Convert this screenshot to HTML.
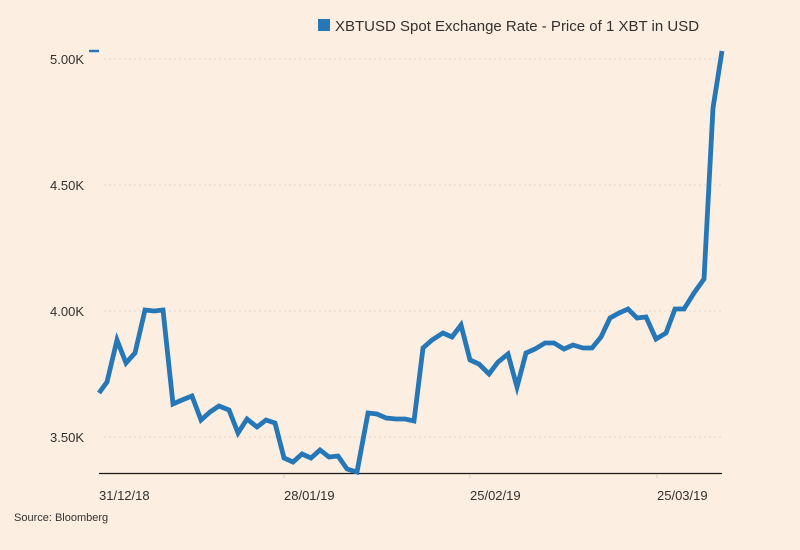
<!DOCTYPE html>
<html><head><meta charset="utf-8"><style>
html,body{margin:0;padding:0;background:#fcefe2;}
svg{display:block;font-family:"Liberation Sans",sans-serif;}
</style></head><body>
<svg width="800" height="550" viewBox="0 0 800 550" xmlns="http://www.w3.org/2000/svg">
<rect width="800" height="550" fill="#fcefe2"/>
<rect x="318" y="19" width="12" height="12" fill="#2677b8"/>
<text x="335" y="31" font-size="15" fill="#33302e">XBTUSD Spot Exchange Rate - Price of 1 XBT in USD</text>
<g stroke="#e2d6cb" stroke-width="1" stroke-dasharray="2,3">
<line x1="104" y1="59" x2="722" y2="59"/>
<line x1="104" y1="185" x2="722" y2="185"/>
<line x1="104" y1="311" x2="722" y2="311"/>
<line x1="104" y1="437" x2="722" y2="437"/>
</g>
<g font-size="13" fill="#33302e" text-anchor="end">
<text x="84" y="64">5.00K</text>
<text x="84" y="190">4.50K</text>
<text x="84" y="316">4.00K</text>
<text x="84" y="442">3.50K</text>
</g>
<line x1="89" y1="51" x2="99" y2="51" stroke="#2677b8" stroke-width="2.5"/>
<line x1="99" y1="473.5" x2="722" y2="473.5" stroke="#1a1817" stroke-width="1.3"/>
<g stroke="#d8ccc0" stroke-width="1">
<line x1="284" y1="474" x2="284" y2="478"/>
<line x1="470" y1="474" x2="470" y2="478"/>
<line x1="657" y1="474" x2="657" y2="478"/>
</g>
<g font-size="13" fill="#33302e">
<text x="99" y="500">31/12/18</text>
<text x="284" y="500">28/01/19</text>
<text x="470" y="500">25/02/19</text>
<text x="657" y="500">25/03/19</text>
</g>
<text x="14" y="521" font-size="11" fill="#33302e">Source: Bloomberg</text>
<polyline fill="none" stroke="#2677b8" stroke-width="4.8" stroke-linejoin="miter" points="99,393 107,382 117,340 126,363 135,353 145,310 154,311 163,310 173,404 182,400 192,396 201,420 210,412 219,406 229,410 238,433 247,419 257,427 266,420 275,423 284,458 293,462 302,454 311,458 320,450 329,457 338,456 347,469 357,472 368,413 377,414 386,418 396,419 405,419 414,421 423,348 432,340 443,333 452,337 461,325 470,360 479,364 489,374 498,362 508,354 517,387 526,353 535,349 545,343 554,343 564,349 573,345 583,348 592,348 601,337 610,318 619,313 628,309 637,318 646,317 656,339 666,333 675,309 684,309 694,293 704,279 713,108 722,51"/>
</svg>
</body></html>
